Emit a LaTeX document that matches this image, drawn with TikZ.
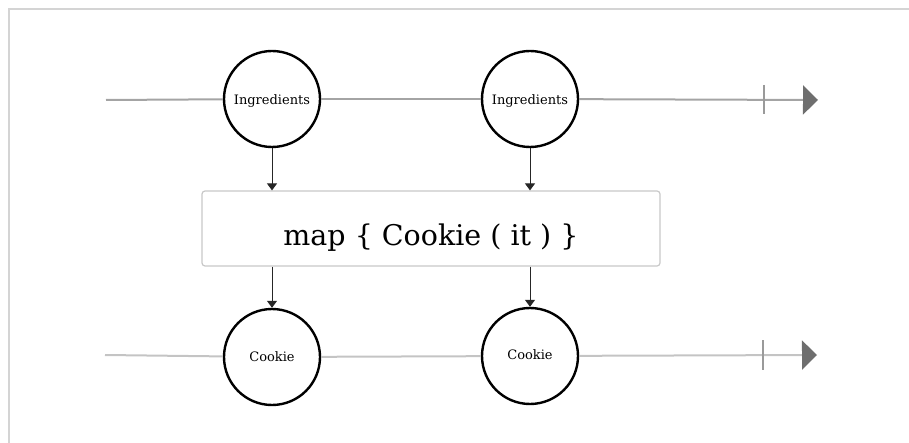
\documentclass[tikz,border=0pt]{standalone}
\usepackage{fontspec}
\setmainfont{DejaVu Serif}
\usetikzlibrary{arrows.meta}
\definecolor{framecol}{HTML}{D4D4D4}
\definecolor{linetop}{HTML}{A4A4A4}
\definecolor{linebot}{HTML}{C4C4C4}
\definecolor{tickcol}{HTML}{9A9A9A}
\definecolor{tipcol}{HTML}{6E6E6E}
\definecolor{boxcol}{HTML}{C8C8C8}
\begin{document}
\begin{tikzpicture}[x=1pt,y=-1pt,
  ev/.style={circle, draw=black, line width=2.4pt, minimum size=96pt, inner sep=0pt, fill=white, text depth=0pt, font=\fontsize{13}{15}\selectfont},
  op/.style={draw=boxcol, line width=1.2pt, rounded corners=3pt, minimum width=458pt, minimum height=75pt, inner sep=0pt, text height=34pt, text depth=0pt, font=\fontsize{28.5}{32}\selectfont},
  tline/.style={line width=2pt},
  tickline/.style={draw=tickcol, line width=2pt},
  endtip/.style={-{Triangle[length=15pt,width=29pt,color=tipcol]}},
  arr/.style={draw=black!85, line width=1pt, -{Triangle[length=7pt,width=10pt]}}
]
\useasboundingbox (0,0) rectangle (909,443);
\draw[framecol, line width=2.5pt] (9,443) -- (9,9) -- (909,9);

% nodes
\node[ev, text height=11pt] (i1) at (272,99) {Ingredients};
\node[ev, text height=11pt] (i2) at (530,99) {Ingredients};
\node[op] (map) at (431,228.5) {map \{ Cookie ( it ) \}};
\node[ev, text height=9pt] (c1) at (272,357) {Cookie};
\node[ev, text height=7pt] (c2) at (530,356) {Cookie};

% top timeline
\coordinate (ts) at (106,100);
\coordinate (te) at (818,100);
\coordinate (ta) at (764,85);
\coordinate (tb) at (764,114);
\draw[tline, draw=linetop] (ts) -- (i1);
\draw[tline, draw=linetop] (i1) -- (i2);
\draw[tline, draw=linetop, endtip] (i2) -- (te);
\draw[tickline] (ta) -- (tb);

% bottom timeline
\coordinate (bs) at (105,355);
\coordinate (be) at (817,355);
\coordinate (ba) at (763,340);
\coordinate (bb) at (763,370);
\draw[tline, draw=linebot] (bs) -- (c1);
\draw[tline, draw=linebot] (c1) -- (c2);
\draw[tline, draw=linebot, endtip] (c2) -- (be);
\draw[tickline] (ba) -- (bb);

% arrows
\draw[arr] (i1.south) -- (i1.south |- map.north);
\draw[arr] (i2.south) -- (i2.south |- map.north);
\draw[arr] (map.south -| c1.north) -- (c1.north);
\draw[arr] (map.south -| c2.north) -- (c2.north);
\end{tikzpicture}
\end{document}
